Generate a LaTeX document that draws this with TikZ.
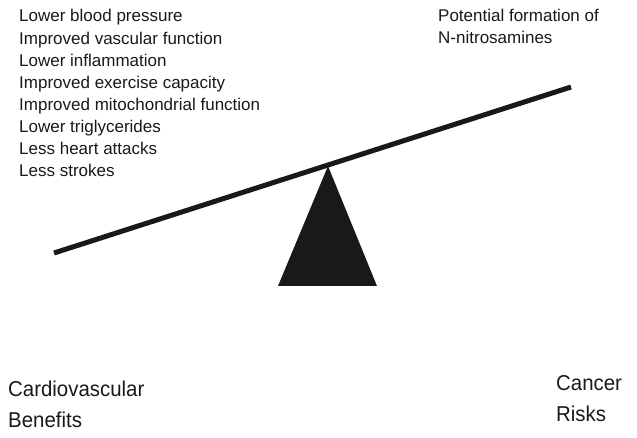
\documentclass[tikz,border=0pt]{standalone}
\usepackage{fontspec}
\setmainfont{Liberation Sans}
\begin{document}
\begin{tikzpicture}[x=1pt,y=-1pt,
  small/.style={anchor=base west,inner sep=0pt,text=black!90,font=\fontsize{17}{20}\selectfont},
  big/.style={anchor=base west,inner sep=0pt,text=black!90,font=\fontsize{21.5}{25}\selectfont,xscale=0.95},
  beam/.style={line width=5pt,color=black!90}]
\useasboundingbox (0,0) rectangle (637,438);
% benefits list
\node[small] (b1) at (19,22) {Lower blood pressure};
\node[small] (b2) at (19,44.1) {Improved vascular function};
\node[small] (b3) at (19,66.2) {Lower inflammation};
\node[small] (b4) at (19,88.3) {Improved exercise capacity};
\node[small] (b5) at (19,110.4) {Improved mitochondrial function};
\node[small] (b6) at (19,132.5) {Lower triglycerides};
\node[small] (b7) at (19,154.6) {Less heart attacks};
\node[small] (b8) at (19,176.7) {Less strokes};
% risks list
\node[small] (r1) at (438,22) {Potential formation of};
\node[small] (r2) at (438,44) {N-nitrosamines};
% seesaw
\coordinate (L) at (54,253);
\coordinate (R) at (571,87);
\coordinate (apex) at (328,166);
\coordinate (bl) at (278,286);
\coordinate (br) at (377,286);
\fill[black!90] (apex) -- (br) -- (bl) -- cycle;
\draw[beam] (L) -- (R);
% bottom labels
\node[big] (c1) at (8,396) {Cardiovascular};
\node[big] (c2) at (8,427) {Benefits};
\node[big] (k1) at (556,390) {Cancer};
\node[big] (k2) at (556,421) {Risks};
\end{tikzpicture}
\end{document}
